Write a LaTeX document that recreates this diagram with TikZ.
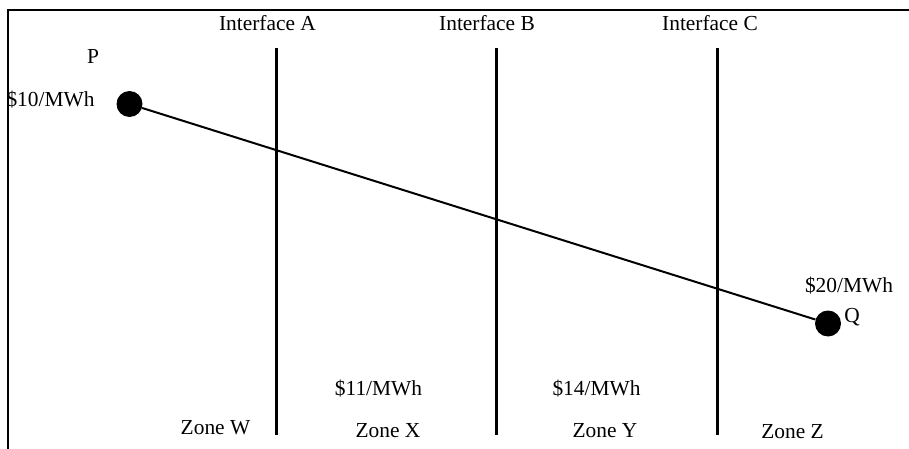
\documentclass[tikz,border=0pt]{standalone}
\usepackage{fontspec}
\setmainfont{Liberation Serif}

\begin{document}
\begin{tikzpicture}[x=1pt,y=-1pt,font=\fontsize{21.4}{24}\selectfont,
  bus/.style={circle,fill=black,inner sep=0pt,minimum size=26pt},
  lbl/.style={inner sep=0pt,anchor=base}]
  % frame on two sides, three interfaces cutting the line from P to Q
  \useasboundingbox (0,0) rectangle (909,449);
  \def\ytop{48}
  \def\ybot{435}
  \draw[line width=2pt] (8,449) -- (8,10) -- (909,10);
  \coordinate (Atop) at (276,\ytop); \coordinate (Abot) at (276,\ybot);
  \coordinate (Btop) at (496,\ytop); \coordinate (Bbot) at (496,\ybot);
  \coordinate (Ctop) at (717,\ytop); \coordinate (Cbot) at (717,\ybot);
  \draw[line width=3pt] (Atop) -- (Abot);
  \draw[line width=3pt] (Btop) -- (Bbot);
  \draw[line width=3pt] (Ctop) -- (Cbot);
  \node[lbl] (ifA) at (267.5,31) {Interface A};
  \node[lbl] (ifB) at (487,31) {Interface B};
  \node[lbl] (ifC) at (710,31) {Interface C};
  \node[bus] (P) at (129.5,104) {};
  \node[bus] (Q) at (828,323.5) {};
  \draw[line width=2pt] (P) -- (Q);
  \node[lbl] (labP) at (93,64) {P};
  \node[lbl] (prP) at (50.5,107) {\$10/MWh};
  \node[lbl] (labQ) at (852,322) {Q};
  \node[lbl] (prQ) at (849,292) {\$20/MWh};
  \node[lbl] (prX) at (378.5,395) {\$11/MWh};
  \node[lbl] (prY) at (596.5,395) {\$14/MWh};
  \node[lbl] (zW) at (215.5,434) {Zone W};
  \node[lbl] (zX) at (388,437) {Zone X};
  \node[lbl] (zY) at (605,437) {Zone Y};
  \node[lbl] (zZ) at (792.5,438) {Zone Z};
\end{tikzpicture}
\end{document}
